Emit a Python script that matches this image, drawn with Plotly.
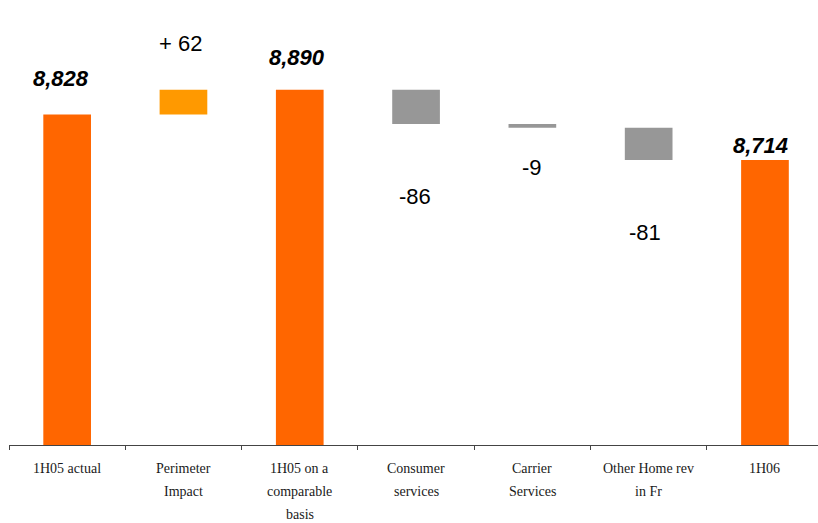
import plotly.graph_objects as go

# Revenue bridge 1H05 -> 1H06 (EUR m)
categories = ["1H05 actual", "Perimeter<br>Impact", "1H05 on a<br>comparable<br>basis",
              "Consumer<br>services", "Carrier<br>Services", "Other Home rev<br>in Fr", "1H06"]
values = [8828, 62, 8890, -86, -9, -81, 8714]
measures = ["absolute", "relative", "total", "relative", "relative", "relative", "total"]
value_labels = ["8,828", "+ 62", "8,890", "-86", "-9", "-81", "8,714"]

ORANGE = "#FF6600"
LIGHT_ORANGE = "#FF9900"
GREY = "#979797"

fig = go.Figure(go.Waterfall(
    x=list(range(len(categories))),
    y=values,
    measure=measures,
    width=0.41,
    connector=dict(visible=False),
    totals=dict(marker=dict(color=ORANGE)),
    increasing=dict(marker=dict(color=LIGHT_ORANGE)),
    decreasing=dict(marker=dict(color=GREY)),
    hoverinfo="skip",
))

# bar ends (top for totals/increases, bottom for decreases)
running = 0
ends = []
for v, m in zip(values, measures):
    if m == "absolute":
        running = v
        ends.append(v)
    elif m == "total":
        ends.append(running)
    else:
        running += v
        ends.append(running)

# label placement: pixel offset from bar end, x shift
label_style = [
    dict(dy=36, dx=-6, bold=True),
    dict(dy=46, dx=-3, bold=False),
    dict(dy=32, dx=-3, bold=True),
    dict(dy=-72, dx=-1, bold=False),
    dict(dy=-40, dx=0, bold=False),
    dict(dy=-72, dx=-4, bold=False),
    dict(dy=15, dx=-4, bold=True),
]

for i, (lab, y, st) in enumerate(zip(value_labels, ends, label_style)):
    fig.add_annotation(
        x=i, y=y, xref="x", yref="y", text=lab, showarrow=False,
        xshift=st["dx"], yshift=st["dy"], yanchor="middle",
        font=dict(family="Liberation Sans, Arial, sans-serif", size=22, color="#000000",
                  weight="bold" if st["bold"] else "normal",
                  style="italic" if st["bold"] else "normal"),
    )

# category labels, one text line per row
for i, cat in enumerate(categories):
    for j, line in enumerate(cat.split("<br>")):
        fig.add_annotation(
            x=i, y=0, xref="x", yref="paper", text=line, showarrow=False,
            yanchor="middle", yshift=-23 * (j + 1),
            font=dict(family="Liberation Serif, Times New Roman, serif", size=14, color="#1a1a1a"),
        )

fig.update_layout(
    width=818, height=523,
    margin=dict(l=9, r=0, t=0, b=78),
    paper_bgcolor="white", plot_bgcolor="white",
    showlegend=False,
    xaxis=dict(
        type="linear", range=[-0.5, 6.456],
        showgrid=False, zeroline=False, showticklabels=False,
        showline=True, linecolor="#444444", linewidth=1,
        tickmode="array", tickvals=[k - 0.5 for k in range(len(categories) + 1)],
        ticks="outside", ticklen=4, tickcolor="#444444", tickwidth=1,
    ),
    yaxis=dict(range=[8000, 9115], visible=False, showgrid=False, zeroline=False),
)

fig.write_html("out.html")
